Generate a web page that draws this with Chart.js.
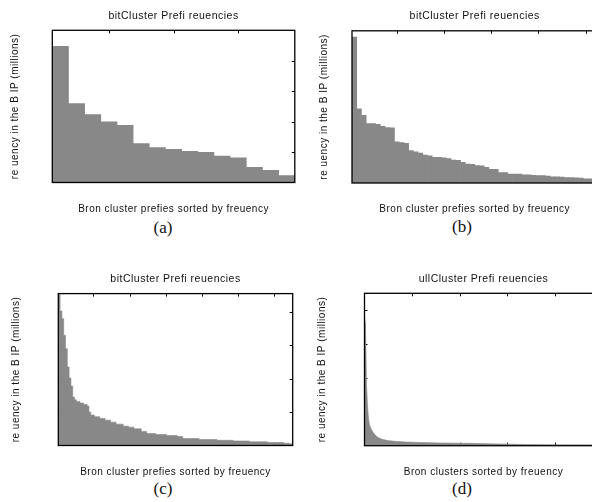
<!DOCTYPE html>
<html>
<head>
<meta charset="utf-8">
<script src="https://cdn.jsdelivr.net/npm/chart.js@4.4.0/dist/chart.umd.min.js"></script>
<style>
  html, body { margin: 0; padding: 0; background: #fff; }
  #fig { position: relative; width: 592px; height: 502px; overflow: hidden; }
  #fig canvas { position: absolute; }
  .cap { position: absolute; font-family: 'Liberation Serif', serif; font-size: 17px; color: #111;
         transform: translate(-50%, -50%); white-space: nowrap; }
</style>
</head>
<body>
<div id="fig">
  <canvas id="ca" width="300" height="215" style="left:0;top:0;width:300px;height:215px"></canvas>
  <canvas id="cb" width="310" height="215" style="left:300px;top:0;width:310px;height:215px"></canvas>
  <canvas id="cc" width="300" height="218" style="left:0;top:260px;width:300px;height:218px"></canvas>
  <canvas id="cd" width="310" height="218" style="left:300px;top:260px;width:310px;height:218px"></canvas>
  <div class="cap" style="left:163px;top:228px">(a)</div>
  <div class="cap" style="left:462px;top:227px">(b)</div>
  <div class="cap" style="left:163px;top:489px">(c)</div>
  <div class="cap" style="left:462px;top:489px">(d)</div>
</div>
<script>
  const GRAY = '#888888';
  const INK = '#111';
  const FONT = { family: "'Liberation Sans', Arial, sans-serif", size: 10, weight: 'normal' };
  const TITLE_FONT = { family: "'Liberation Sans', Arial, sans-serif", size: 10.5, weight: 'normal' };

  const TITLE_BIT = 'bitCluster Prefi reuencies';
  const TITLE_FULL = 'ullCluster Prefi reuencies';
  const Y_LABEL = 're uency in the B IP (millions)';
  const X_LABEL_PREFIX = 'Bron cluster prefies sorted by freuency';
  const X_LABEL_CLUSTER = 'Bron clusters sorted by freuency';

  // (a) 15 prefixes
  const rankA = [1, 2, 3, 4, 5, 6, 7, 8, 9, 10, 11, 12, 13, 14, 15];
  const freqA = [4.47, 2.59, 2.23, 1.99, 1.88, 1.28, 1.15, 1.09, 1.02, 0.99, 0.87, 0.81, 0.50, 0.40, 0.23];
  const xTicksA = [4, 8, 12];
  const yTicksA = [1, 2, 3, 4];

  // (b) 52 prefixes
  const freqB = [9.59, 4.87, 4.45, 3.90, 3.90, 3.85, 3.73, 3.64, 3.62, 2.70,
                 2.65, 2.60, 2.13, 2.04, 1.97, 1.84, 1.78, 1.69, 1.69, 1.66,
                 1.60, 1.51, 1.49, 1.36, 1.25, 1.22, 1.14, 1.12, 1.03, 0.90,
                 0.89, 0.69, 0.68, 0.59, 0.59, 0.58, 0.53, 0.53, 0.51, 0.48,
                 0.48, 0.46, 0.41, 0.41, 0.39, 0.35, 0.35, 0.34, 0.33, 0.28,
                 0.28, 0.26];
  const rankB = freqB.map((_, i) => i + 1);
  const xTicksB = [10, 20, 30, 40, 50];
  const yTicksB = [2, 4, 6, 8];

  // (c) 130 prefixes, step edges (rank) and level
  const rankC = [0.5, 1.5, 2.5, 3.5, 4.5, 5.5, 6.5, 7.5, 8.5, 9.5, 10.5, 12.5, 14.5, 16.5, 17.5, 18.5,
                 20.5, 23.5, 26.5, 29.5, 32.5, 36.5, 39.5, 42.5, 46.5, 49.5, 54.5, 60.5, 66.5, 69.5,
                 78.5, 88.5, 97.5, 106.5, 116.5, 125.5, 128.5, 130.5];
  const freqC = [4.52, 4.03, 3.80, 3.30, 2.90, 2.35, 2.02, 1.78, 1.45, 1.37, 1.32, 1.27, 1.23, 1.18, 1.00, 0.91,
                 0.86, 0.81, 0.76, 0.70, 0.64, 0.58, 0.55, 0.50, 0.42, 0.36, 0.33, 0.30, 0.27, 0.21,
                 0.18, 0.155, 0.135, 0.11, 0.09, 0.07, 0.05, 0.05];
  const xTicksC = [20, 40, 60, 80, 100, 120];
  const yTicksC = [1, 2, 3, 4];

  // (d) full clusters
  const rankD = [0, 21, 42, 63, 84, 105, 136, 178, 220, 283, 367, 493, 640, 850, 1160, 1580, 2210, 2840, 3470, 4100, 4940, 5000];
  const freqD = [3.8, 3.6, 1.8, 1.2, 0.8, 0.62, 0.5, 0.4, 0.32, 0.24, 0.19, 0.15, 0.13, 0.11, 0.095, 0.08, 0.07, 0.05, 0.035, 0.03, 0.025, 0.025];
  const xTicksD = [1000, 2000, 3000, 4000, 5000];
  const yTicksD = [1, 2, 3, 4];

  // inward ticks under the data, black box on top
  const frame = {
    id: 'frame',
    beforeDraw(chart) { chart.ctx.letterSpacing = '0.5px'; },
    beforeDatasetsDraw(chart, args, opts) {
      const { ctx, chartArea: a, scales: { x, y } } = chart;
      const len = 3;
      ctx.save();
      ctx.strokeStyle = '#000';
      ctx.lineWidth = 1;
      ctx.beginPath();
      opts.xTicks.forEach(v => {
        const px = Math.round(x.getPixelForValue(opts.category ? v - 1 : v)) + 0.5;
        ctx.moveTo(px, a.top); ctx.lineTo(px, a.top + len);
        ctx.moveTo(px, a.bottom); ctx.lineTo(px, a.bottom - len);
      });
      opts.yTicks.forEach(v => {
        const py = Math.round(y.getPixelForValue(v)) + 0.5;
        ctx.moveTo(a.left, py); ctx.lineTo(a.left + len, py);
        ctx.moveTo(a.right, py); ctx.lineTo(a.right - len, py);
      });
      ctx.stroke();
      ctx.restore();
    },
    afterDatasetsDraw(chart) {
      const { ctx, chartArea: a } = chart;
      ctx.save();
      ctx.strokeStyle = '#000';
      ctx.lineWidth = 1.3;
      ctx.strokeRect(a.left, a.top, a.right - a.left, a.bottom - a.top);
      ctx.restore();
    }
  };

  function options(p) {
    return {
      responsive: false,
      animation: false,
      layout: { autoPadding: false, padding: { left: 0, right: p.padR, top: 0, bottom: 0 } },
      plugins: {
        legend: { display: false },
        tooltip: { enabled: false },
        title: { display: true, text: p.title, font: TITLE_FONT, color: INK, fullSize: false,
                 padding: { top: p.tTop, bottom: p.tBot } },
        frame: { xTicks: p.xTicks, yTicks: p.yTicks, category: !!p.category }
      },
      scales: {
        x: {
          type: p.category ? 'category' : 'linear',
          min: p.xMin, max: p.xMax,
          offset: !!p.category,
          grid: { display: false, drawTicks: false },
          border: { display: false },
          ticks: { display: false },
          title: { display: true, text: p.xTitle, font: FONT, color: INK, padding: { top: p.xTop, bottom: 0 } }
        },
        y: {
          min: 0, max: p.yMax,
          grid: { display: false, drawTicks: false },
          border: { display: false },
          ticks: { display: false },
          title: { display: true, text: Y_LABEL, font: FONT, color: INK, padding: { top: p.yTop, bottom: p.yBot } }
        }
      }
    };
  }

  function barSet(values) {
    return { data: values, backgroundColor: GRAY, borderWidth: 0, barPercentage: 1, categoryPercentage: 1 };
  }

  function areaSet(xs, ys, stepped) {
    return {
      data: xs.map((x, i) => ({ x: x, y: ys[i] })),
      backgroundColor: GRAY, borderColor: GRAY, borderWidth: 0.6,
      fill: 'origin', stepped: stepped, pointRadius: 0, tension: 0
    };
  }

  new Chart(document.getElementById('ca'), {
    type: 'bar',
    data: { labels: rankA, datasets: [barSet(freqA)] },
    options: options({ category: true, title: TITLE_BIT, xTitle: X_LABEL_PREFIX, yMax: 5,
      xTicks: xTicksA, yTicks: yTicksA, padR: 5.2, tTop: 9.7, tBot: 8, xTop: 20.5, yTop: 9, yBot: 31.3 }),
    plugins: [frame]
  });

  new Chart(document.getElementById('cb'), {
    type: 'bar',
    data: { labels: rankB, datasets: [barSet(freqB)] },
    options: options({ category: true, title: TITLE_BIT, xTitle: X_LABEL_PREFIX, yMax: 10,
      xTicks: xTicksB, yTicks: yTicksB, padR: 12.6, tTop: 9.7, tBot: 8.5, xTop: 20, yTop: 18.3, yBot: 21.7 }),
    plugins: [frame]
  });

  new Chart(document.getElementById('cc'), {
    type: 'line',
    data: { datasets: [areaSet(rankC, freqC, true)] },
    options: options({ title: TITLE_BIT, xTitle: X_LABEL_PREFIX, xMin: 0.5, xMax: 130.5, yMax: 4.55,
      xTicks: xTicksC, yTicks: yTicksC, padR: 7.3, tTop: 12.7, tBot: 8.3, xTop: 20.5, yTop: 10, yBot: 36.3 }),
    plugins: [frame]
  });

  new Chart(document.getElementById('cd'), {
    type: 'line',
    data: { datasets: [areaSet(rankD, freqD, false)] },
    options: options({ title: TITLE_FULL, xTitle: X_LABEL_CLUSTER, xMin: 0, xMax: 5000, yMax: 4.5,
      xTicks: xTicksD, yTicks: yTicksD, padR: 7.5, tTop: 12.7, tBot: 8, xTop: 20.3, yTop: 16, yBot: 36.5 }),
    plugins: [frame]
  });
</script>
</body>
</html>
